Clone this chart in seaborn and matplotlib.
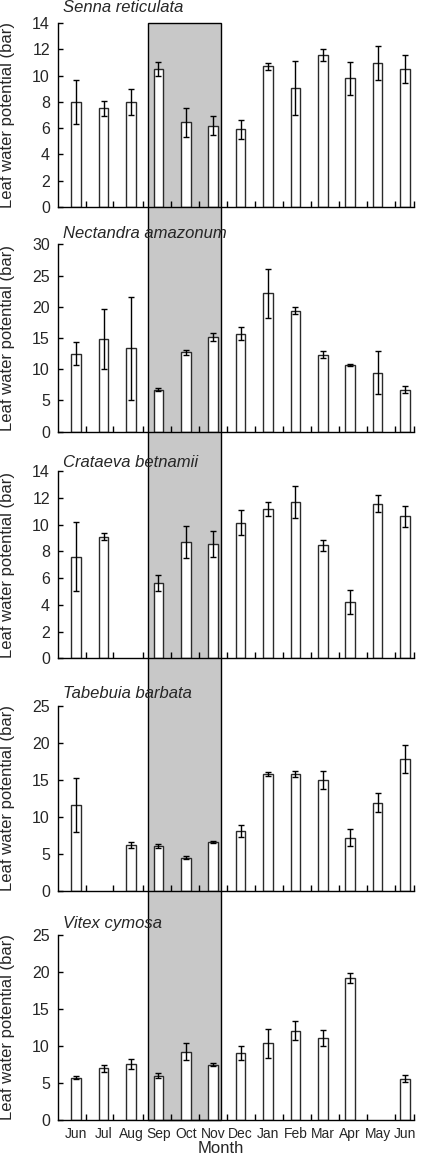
import numpy as np
import pandas as pd
import matplotlib
matplotlib.use("Agg")
import matplotlib.pyplot as plt
import matplotlib.transforms as mtransforms
from matplotlib.patches import Rectangle
import seaborn as sns

nan = np.nan

months = ['Jun', 'Jul', 'Aug', 'Sep', 'Oct', 'Nov', 'Dec', 'Jan', 'Feb', 'Mar', 'Apr', 'May', 'Jun']

species = ['Senna reticulata', 'Nectandra amazonum', 'Crataeva betnamii',
           'Tabebuia barbata', 'Vitex cymosa']

senna_mean = [8.0, 7.5, 8.0, 10.5, 6.45, 6.2, 5.9, 10.7, 9.05, 11.55, 9.8, 10.95, 10.5]
senna_err = [1.7, 0.55, 1.0, 0.5, 1.1, 0.75, 0.75, 0.25, 2.05, 0.45, 1.25, 1.3, 1.05]

nectandra_mean = [12.5, 14.8, 13.35, 6.75, 12.7, 15.1, 15.7, 22.15, 19.4, 12.35, 10.7, 9.45, 6.75]
nectandra_err = [1.8, 4.8, 8.2, 0.3, 0.35, 0.65, 1.1, 3.9, 0.5, 0.5, 0.2, 3.4, 0.5]

crataeva_mean = [7.6, 9.1, nan, 5.65, 8.7, 8.55, 10.15, 11.15, 11.65, 8.45, 4.2, 11.55, 10.6]
crataeva_err = [2.6, 0.25, nan, 0.6, 1.2, 1.0, 0.9, 0.55, 1.2, 0.4, 0.9, 0.65, 0.75]

tabebuia_mean = [11.6, nan, 6.2, 6.1, 4.5, 6.6, 8.1, 15.8, 15.8, 15.0, 7.2, 11.9, 17.8]
tabebuia_err = [3.65, nan, 0.45, 0.25, 0.2, 0.15, 0.75, 0.25, 0.45, 1.2, 1.15, 1.3, 1.9]

vitex_mean = [5.7, 7.0, 7.6, 6.0, 9.25, 7.5, 9.05, 10.35, 12.05, 11.1, 19.2, nan, 5.6]
vitex_err = [0.2, 0.45, 0.7, 0.3, 1.2, 0.15, 0.95, 2.0, 1.3, 1.1, 0.7, nan, 0.5]

means = [senna_mean, nectandra_mean, crataeva_mean, tabebuia_mean, vitex_mean]
errs = [senna_err, nectandra_err, crataeva_err, tabebuia_err, vitex_err]
ymax = [14, 30, 14, 25, 25]
ystep = [2, 5, 2, 5, 5]

# shaded period (Sep-Nov) in category coordinates
shade_start, shade_end = 2.64, 5.27

sns.set_style('ticks')
plt.rcParams['font.family'] = ['Liberation Sans', 'DejaVu Sans']

W, H = 424, 1159
fig = plt.figure(figsize=(W / 100, H / 100), dpi=100)

left_px, right_px = 58.3, 414.0
panels_px = [(23, 207), (244.3, 431.7), (471, 658.3), (705.7, 891), (935, 1120)]
title_base_px = [12.3, 237.7, 467.3, 698.3, 928.3]

keys = [f'{m}{i}' for i, m in enumerate(months)]
minor_ticks = [0.365, 1.36, 2.43, 3.45, 4.48, 5.49, 6.53, 7.54, 8.56, 9.59, 10.6, 11.63, 12.33]

axes = []
for k in range(5):
    top, bot = panels_px[k]
    ax = fig.add_axes([left_px / W, 1 - bot / H, (right_px - left_px) / W, (bot - top) / H])
    axes.append(ax)
    df = pd.DataFrame({'key': keys, 'value': means[k]})
    sns.barplot(data=df, x='key', y='value', order=keys, color='white',
                edgecolor='#2a2a2a', linewidth=1.0, width=0.35, errorbar=None, ax=ax)
    ax.errorbar(np.arange(len(keys)), means[k], yerr=errs[k], fmt='none',
                ecolor='black', elinewidth=1.0, capsize=2.5, capthick=1.0, zorder=3)
    ax.set_facecolor('none')
    ax.set_xlim(-0.65, 12.33)
    ax.set_ylim(0, ymax[k])
    ax.set_yticks(np.arange(0, ymax[k] + 0.1, ystep[k]))
    ax.spines['top'].set_visible(False)
    ax.spines['right'].set_visible(False)
    for s in ('left', 'bottom'):
        ax.spines[s].set_color('black')
        ax.spines[s].set_linewidth(1.0)
    ax.set_xticks(range(len(keys)))
    ax.set_xticks(minor_ticks, minor=True)
    ax.tick_params(axis='x', which='major', length=0, pad=5, labelsize=10)
    ax.tick_params(axis='x', which='minor', direction='in', length=4, width=1, color='black')
    ax.tick_params(axis='y', direction='in', length=3.5, width=1, pad=6, labelsize=11.5, color='black')
    if k == 4:
        ax.set_xticklabels(months)
        ax.set_xlabel('Month', fontsize=12)
        ax.xaxis.set_label_coords(0.457, -0.115)
    else:
        ax.set_xticklabels([])
        ax.set_xlabel('')
    ax.set_ylabel('Leaf water potential (bar)', fontsize=12)
    ax.yaxis.set_label_coords(-0.122, 0.5)
    fig.text(63 / W, 1 - title_base_px[k] / H, species[k], style='italic',
             fontsize=12, va='baseline', ha='left')

trans = mtransforms.blended_transform_factory(axes[-1].transData, fig.transFigure)
rect = Rectangle((shade_start, 1 - panels_px[4][1] / H), shade_end - shade_start,
                 (panels_px[4][1] - panels_px[0][0]) / H, transform=trans,
                 facecolor='#c8c8c8', edgecolor='black', linewidth=1.0, zorder=-1)
fig.add_artist(rect)

fig.savefig('out.png', dpi=100)
